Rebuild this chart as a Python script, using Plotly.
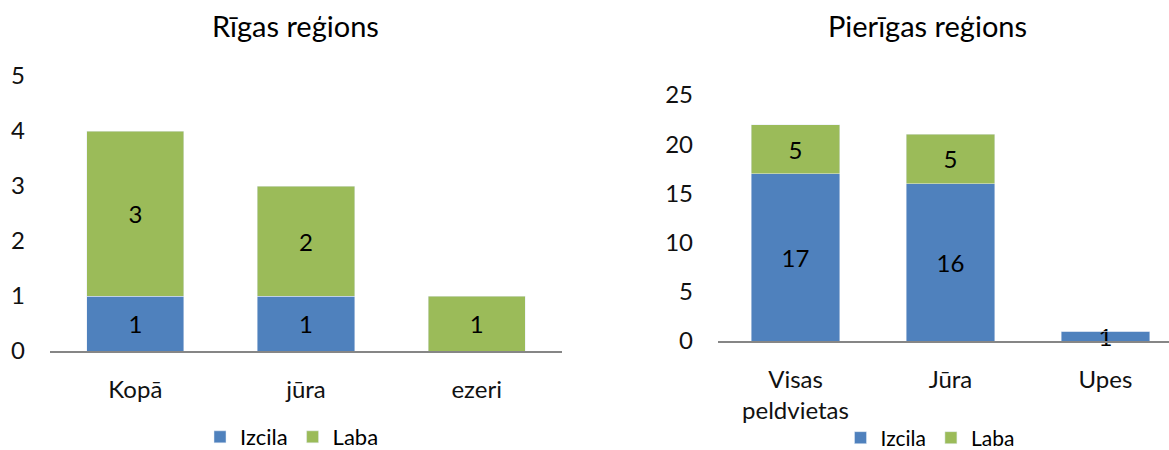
import plotly.graph_objects as go

# Data
cats_left = ["Kopā", "jūra", "ezeri"]
izcila_left = [1, 1, 0]
laba_left = [3, 2, 1]

cats_right = ["Visas<br>peldvietas", "Jūra", "Upes"]
izcila_right = [17, 16, 1]
laba_right = [5, 5, 0]

title_left = "Rīgas reģions"
title_right = "Pierīgas reģions"
series_names = ["Izcila", "Laba"]

BLUE = "#4F81BD"
GREEN = "#9BBB59"
FONT = "Lato, 'Open Sans', sans-serif"

def txt(vals):
    return [str(v) if v else "" for v in vals]

fig = go.Figure()

common = dict(textposition="inside", insidetextanchor="middle", textangle=0,
              textfont=dict(size=24, color="black", family=FONT), cliponaxis=False,
              constraintext="none", width=0.57, hoverinfo="skip")

fig.add_trace(go.Bar(x=cats_left, y=izcila_left, name=series_names[0], marker_color=BLUE,
                     text=txt(izcila_left), xaxis="x", yaxis="y", legend="legend", **common))
fig.add_trace(go.Bar(x=cats_left, y=laba_left, name=series_names[1], marker_color=GREEN,
                     text=txt(laba_left), xaxis="x", yaxis="y", legend="legend", **common))
fig.add_trace(go.Bar(x=cats_right, y=izcila_right, name=series_names[0], marker_color=BLUE,
                     text=txt(izcila_right), xaxis="x2", yaxis="y2", legend="legend2", **common))
fig.add_trace(go.Bar(x=cats_right, y=laba_right, name=series_names[1], marker_color=GREEN,
                     text=txt(laba_right), xaxis="x2", yaxis="y2", legend="legend2", **common))

W, H = 1169, 450
axis_common = dict(showgrid=False, zeroline=False, tickfont=dict(size=24, family=FONT, color="#111"))

fig.update_layout(
    width=W, height=H,
    barmode="stack",
    paper_bgcolor="white", plot_bgcolor="white",
    margin=dict(l=0, r=0, t=0, b=0, autoexpand=False),
    font=dict(family=FONT, color="black"),
    uniformtext=dict(minsize=24, mode="show"),
    xaxis=dict(domain=[50 / W, 562 / W], anchor="y", showline=True, linecolor="#868686", linewidth=2,
               ticks="", ticklabelstandoff=16, range=[-0.5, 2.5], **axis_common),
    yaxis=dict(domain=[(H - 351) / H, (H - 76) / H], anchor="x", range=[0, 5], dtick=1,
               showline=False, ticks="", ticklabelstandoff=24, **axis_common),
    xaxis2=dict(domain=[718 / W, 1.0], anchor="y2", showline=True, linecolor="#868686", linewidth=2,
                ticks="", ticklabelstandoff=16, range=[-0.5, 2.41], **axis_common),
    yaxis2=dict(domain=[(H - 341) / H, (H - 95) / H], anchor="x2", range=[0, 25], dtick=5,
                showline=False, ticks="", ticklabelstandoff=24, **axis_common),
    legend=dict(orientation="h", xref="container", yref="container", x=292 / W, xanchor="center",
                y=13 / H, yanchor="middle", font=dict(size=22, family=FONT), itemwidth=30,
                traceorder="normal", bgcolor="rgba(0,0,0,0)"),
    legend2=dict(orientation="h", xref="container", yref="container", x=930 / W, xanchor="center",
                 y=12 / H, yanchor="middle", font=dict(size=21, family=FONT), itemwidth=30,
                 traceorder="normal", bgcolor="rgba(0,0,0,0)"),
    annotations=[
        dict(text=title_left, x=295 / W, y=(H - 25) / H, xref="paper", yref="paper",
             showarrow=False, font=dict(size=29, family=FONT, color="black"), xanchor="center", yanchor="middle"),
        dict(text=title_right, x=927 / W, y=(H - 25) / H, xref="paper", yref="paper",
             showarrow=False, font=dict(size=29, family=FONT, color="black"), xanchor="center", yanchor="middle"),
    ],
)

fig.write_html("out.html", config={"displayModeBar": False},
               post_script="document.body.style.margin='0';")
